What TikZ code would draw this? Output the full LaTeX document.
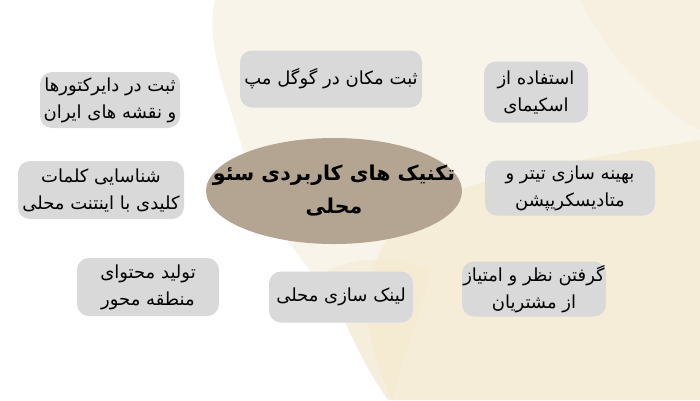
\documentclass[tikz,border=0pt]{standalone}
\usepackage{fontspec}
\usetikzlibrary{shapes.geometric}
\TeXXeTstate=1
\newfontfamily\fa[Script=Arabic]{DejaVu Sans}
\definecolor{boxgray}{HTML}{D9D9D9}
\definecolor{ellcol}{HTML}{B3A591}
\definecolor{creamA}{HTML}{F9F4EA}
\definecolor{creamB}{HTML}{F4E8CB}
\begin{document}
\begin{tikzpicture}[x=1pt,y=-1pt,
  box/.style={fill=boxgray, rounded corners=12pt, align=center, inner sep=0pt,
    font=\fa\fontsize{18}{27}\selectfont},
  hub/.style={ellipse, fill=ellcol, inner sep=0pt},
  hubtext/.style={align=center, inner sep=0pt,
    font=\fa\bfseries\fontsize{20.5}{33}\selectfont}]
\useasboundingbox (0,0) rectangle (700,400);
\fill[white] (0,0) rectangle (700,400);
% watercolor background
\fill[creamA] (215,0) -- (700,0) -- (700,400) -- (388,400)
  .. controls (360,360) and (345,320) .. (335,300)
  .. controls (300,260) and (260,210) .. (240,140)
  .. controls (225,90) and (205,40) .. (215,0) -- cycle;
\fill[creamB, opacity=0.55] (430,200) .. controls (520,165) and (640,150) .. (700,140)
  -- (700,400) -- (392,400) .. controls (370,350) and (360,310) .. (372,270)
  .. controls (385,235) and (405,212) .. (430,200) -- cycle;
\fill[creamB, opacity=0.45] (300,290) .. controls (330,260) and (380,250) .. (430,270)
  .. controls (420,320) and (400,360) .. (392,400) -- (388,400)
  .. controls (360,360) and (345,320) .. (335,300) -- cycle;
\fill[creamB, opacity=0.35] (580,0) -- (700,0) -- (700,130) .. controls (660,110) and (610,60) .. (580,0) -- cycle;
% nodes
\node[hub, minimum width=256pt, minimum height=106pt] (hub) at (334,191) {};
\node[hubtext] (hubtext) at (hub.center)
  {\beginR تکنیک های کاربردی سئو\endR\\\beginR محلی\endR};
\node[box, minimum width=140pt, minimum height=56pt] (dir) at (110,100)
  {\beginR ثبت در دایرکتورها\endR\\\beginR و نقشه های ایران\endR};
\node[box, minimum width=182pt, minimum height=57pt] (gmap) at (331,79)
  {\beginR ثبت مکان در گوگل مپ\endR};
\node[box, minimum width=104pt, minimum height=61pt] (schema) at (536,92)
  {\beginR استفاده از\endR\\\beginR اسکیمای\endR};
\node[box, minimum width=170pt, minimum height=55pt] (title) at (570,188)
  {\beginR بهینه سازی تیتر و\endR\\\beginR متادیسکریپشن\endR};
\node[box, minimum width=166pt, minimum height=58pt] (kw) at (101,190)
  {\beginR شناسایی کلمات\endR\\\beginR کلیدی با اینتنت محلی\endR};
\node[box, minimum width=142pt, minimum height=58pt] (content) at (148,287)
  {\beginR تولید محتوای\endR\\\beginR منطقه محور\endR};
\node[box, minimum width=144pt, minimum height=51pt] (link) at (341,297)
  {\beginR لینک سازی محلی\endR};
\node[box, minimum width=144pt, minimum height=55pt] (review) at (534,289)
  {\beginR گرفتن نظر و امتیاز\endR\\\beginR از مشتریان\endR};
\end{tikzpicture}
\end{document}
